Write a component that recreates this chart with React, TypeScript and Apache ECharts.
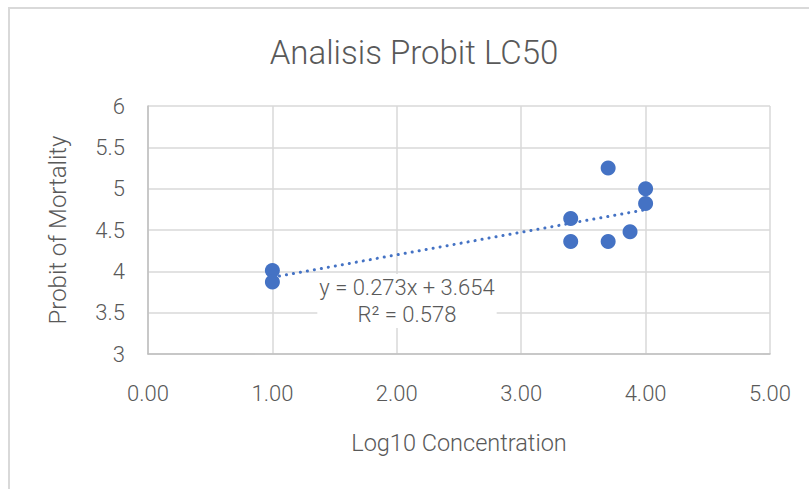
import React, { useEffect, useRef } from "react";
import * as echarts from "echarts";

const TITLE = "Analisis Probit LC50";
const X_NAME = "Log10 Concentration";
const Y_NAME = "Probit of Mortality";
const logConc = [1, 1, 3.398, 3.398, 3.699, 3.699, 3.875, 4, 4];
const probit = [4.01, 3.87, 4.64, 4.36, 5.25, 4.36, 4.48, 5.0, 4.82];
const trendSlope = 0.273;
const trendIntercept = 3.654;
const trendRange = [1, 4];
const eqLines = ["y = 0.273x + 3.654", "R² = 0.578"];

const FONT = "Roboto";
const TXT = "#595959";
const BLUE = "#4472c4";

export default function App() {
  const ref = useRef<HTMLDivElement>(null);
  useEffect(() => {
    if (!ref.current) return;
    const chart = echarts.init(ref.current, undefined, { renderer: "svg" });
    const points = logConc.map((x, i) => [x, probit[i]]);
    const trend = trendRange.map((x) => [x, trendSlope * x + trendIntercept]);
    chart.setOption({
      animation: false,
      backgroundColor: "#ffffff",
      textStyle: { fontFamily: FONT, fontWeight: 300 },
      grid: { left: 148, top: 106, width: 622, height: 248 },
      xAxis: {
        type: "value",
        min: 0,
        max: 5,
        interval: 1,
        name: X_NAME,
        nameLocation: "middle",
        nameGap: 77,
        nameTextStyle: { fontFamily: FONT, fontWeight: 300, fontSize: 23.5, color: TXT },
        axisLine: { show: true, lineStyle: { color: "#bfbfbf", width: 1.5 } },
        axisTick: { show: false },
        axisLabel: {
          fontFamily: FONT,
          fontWeight: 300,
          fontSize: 22,
          color: TXT,
          margin: 28,
          formatter: (v: number) => v.toFixed(2),
        },
        splitLine: { show: true, lineStyle: { color: "#d9d9d9", width: 1.5 } },
      },
      yAxis: {
        type: "value",
        min: 3,
        max: 6,
        interval: 0.5,
        name: Y_NAME,
        nameLocation: "middle",
        nameGap: 78,
        nameTextStyle: { fontFamily: FONT, fontWeight: 300, fontSize: 24, color: TXT },
        axisLine: { show: true, lineStyle: { color: "#bfbfbf", width: 1.5 } },
        axisTick: { show: false },
        axisLabel: { fontFamily: FONT, fontWeight: 300, fontSize: 22, color: TXT, margin: 23 },
        splitLine: { show: true, lineStyle: { color: "#d9d9d9", width: 1.5 } },
      },
      graphic: [
        {
          type: "text",
          x: 414,
          y: 52,
          style: {
            text: TITLE,
            fontFamily: FONT,
            fontWeight: 300,
            fontSize: 33,
            fill: TXT,
            textAlign: "center",
            textVerticalAlign: "middle",
          },
        },
        {
          type: "text",
          x: 407,
          y: 301,
          z: 10,
          style: {
            text: eqLines.join("\n"),
            fontFamily: FONT,
            fontWeight: 300,
            fontSize: 22,
            lineHeight: 27,
            fill: TXT,
            textAlign: "center",
            textVerticalAlign: "middle",
            backgroundColor: "#ffffff",
            padding: [0, 2, 0, 2],
          },
        },
      ],
      series: [
        {
          type: "line",
          data: trend,
          symbol: "none",
          z: 1,
          lineStyle: { color: BLUE, width: 3, type: [0.1, 7], cap: "round" },
        },
        {
          type: "scatter",
          data: points,
          symbol: "circle",
          symbolSize: 15,
          z: 2,
          itemStyle: { color: BLUE, opacity: 1 },
        },
      ],
    });
    return () => chart.dispose();
  }, []);
  return (
    <>
      <div
        style={{
          position: "fixed",
          left: 0,
          top: 0,
          width: 809,
          height: 489,
        }}
        ref={ref}
      />
      <div
        style={{
          position: "fixed",
          left: 8,
          top: 7,
          width: 801,
          height: 482,
          borderLeft: "2px solid #d9d9d9",
          borderTop: "2px solid #d9d9d9",
          pointerEvents: "none",
        }}
      />
    </>
  );
}
